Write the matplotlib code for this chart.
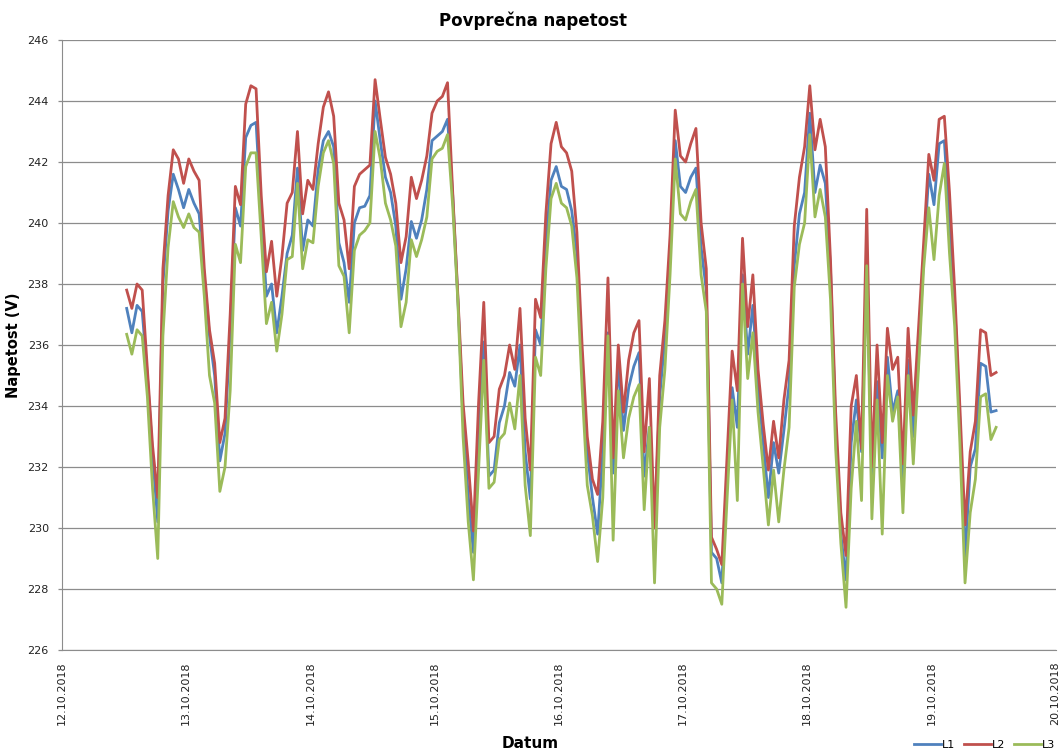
import numpy as np
import pandas as pd
import matplotlib
matplotlib.use("Agg")
import matplotlib.pyplot as plt
import matplotlib.dates as mdates

# hourly averages, first sample 12.10.2018 12:30
start_time = "2018-10-12 12:30"

L1 = [237.2, 236.4, 237.3, 237.1, 235.0, 232.4, 230.2, 238.0, 240.4, 241.6,
      241.1, 240.5, 241.1, 240.65, 240.3, 238.25, 236.3, 235.0, 232.2, 233.1,
      236.5, 240.5, 239.9, 242.8, 243.2, 243.3, 240.3, 237.6, 238.0, 236.4,
      237.6, 239.0, 239.6, 241.8, 239.1, 240.1, 239.9, 241.75, 242.7, 243.0,
      242.5, 239.35, 238.7, 237.4,
      240.0, 240.5, 240.55, 240.9, 244.0, 242.7, 241.5, 241.0, 239.9, 237.5,
      238.5, 240.05, 239.5, 240.1, 241.1, 242.7, 242.85, 243.0, 243.4, 240.9,
      237.5, 233.6, 231.05, 229.2, 233.0, 236.1, 231.7, 231.9, 233.45, 234.0,
      235.1, 234.65, 236.0, 232.5, 230.95, 236.5, 236.0, 239.35, 241.4, 241.85,
      241.2,
      241.1, 240.4, 239.0, 235.5, 232.5, 231.0, 229.8, 232.5, 236.4, 231.8,
      235.4, 233.2, 234.6, 235.3, 235.75, 231.7, 233.3, 230.0, 234.3, 236.2,
      239.0, 242.7, 241.2, 241.0, 241.5, 241.8, 239.2, 237.8, 229.2, 229.0,
      228.2, 231.6, 234.6, 233.3, 238.3, 235.7, 237.3, 234.6, 232.8, 231.0,
      232.8, 231.8, 233.2, 234.7,
      238.6, 240.3, 241.0, 243.6, 241.0, 241.9, 241.3, 238.5, 233.3, 229.8,
      228.3, 232.8, 234.2, 232.5, 238.6, 231.6, 234.8, 232.3, 235.6, 233.8,
      234.5, 231.3, 235.5, 233.0, 235.5, 238.9, 241.6, 240.6, 242.6, 242.7,
      240.0, 237.4, 233.5, 229.0, 232.0, 232.6, 235.4, 235.3, 233.8, 233.85]

L2 = [237.8, 237.2, 238.0, 237.8, 235.2, 232.7, 231.0, 238.5, 240.9, 242.4,
      242.1, 241.3, 242.1, 241.7, 241.4, 238.5, 236.5, 235.4, 232.8, 233.6,
      237.0, 241.2, 240.6, 243.9, 244.5, 244.4, 240.9, 238.4, 239.4, 237.6,
      238.9, 240.65, 241.0, 243.0, 240.3, 241.4, 241.1, 242.6, 243.8, 244.3,
      243.5, 240.65, 240.1, 238.5,
      241.2, 241.6, 241.75, 241.9, 244.7, 243.4, 242.15, 241.6, 240.65, 238.7,
      239.55, 241.5, 240.8, 241.4, 242.2, 243.6, 244.0, 244.15, 244.6, 241.0,
      237.6, 234.1, 232.15, 229.9, 234.1, 237.4, 232.8, 233.0, 234.55, 235.0,
      236.0, 235.2, 237.2, 233.6, 231.9, 237.5, 236.9, 240.3, 242.6, 243.3,
      242.5,
      242.3, 241.7, 239.7, 236.0, 233.0, 231.6, 231.1, 233.5, 238.2, 232.3,
      236.0, 233.8, 235.5, 236.4, 236.8, 232.5, 234.9, 230.0, 235.0, 236.8,
      239.6, 243.7, 242.2, 242.0, 242.6, 243.1, 240.0, 238.5, 229.7, 229.3,
      228.8, 232.3, 235.8, 234.5, 239.5, 236.6, 238.3, 235.2, 233.4, 231.9,
      233.5, 232.3, 234.2, 235.5,
      239.9, 241.5, 242.5, 244.5, 242.4, 243.4, 242.5, 238.8, 233.8, 230.5,
      229.1, 234.0, 235.0, 232.6, 240.45, 232.0, 236.0, 232.8, 236.55, 235.2,
      235.6, 232.1, 236.55, 233.7, 236.5, 239.35, 242.25, 241.4, 243.4, 243.5,
      241.0, 237.8, 234.0, 230.1, 232.5, 233.5, 236.5, 236.4, 235.0, 235.1]

L3 = [236.35, 235.7, 236.5, 236.3, 234.3, 231.3, 229.0, 236.3, 239.2, 240.7,
      240.2, 239.85, 240.3, 239.85, 239.7, 237.6, 235.0, 234.1, 231.2, 232.0,
      234.5, 239.3, 238.7, 241.85, 242.3, 242.3, 239.55, 236.7, 237.4, 235.8,
      237.0, 238.8, 238.9, 241.3, 238.5, 239.45, 239.35, 241.2, 242.3, 242.7,
      241.95, 238.6, 238.25, 236.4,
      239.1, 239.6, 239.75, 240.0, 243.0, 242.1, 240.65, 240.1, 239.25, 236.6,
      237.4, 239.45, 238.9, 239.45, 240.2, 242.1, 242.35, 242.45, 242.9, 240.55,
      237.4, 233.0, 230.2, 228.3, 231.9, 235.5, 231.3, 231.5, 232.9, 233.1,
      234.1, 233.25, 235.0, 231.4, 229.75, 235.6, 235.0, 238.5, 240.8, 241.3,
      240.65,
      240.5, 239.9, 238.2, 234.6, 231.4, 230.4, 228.9, 231.0, 236.3, 229.6,
      234.5, 232.3, 233.6, 234.3, 234.7, 230.6, 233.3, 228.2, 233.3, 235.2,
      238.3, 242.1, 240.3, 240.1, 240.7, 241.1, 238.3, 237.1, 228.2, 228.0,
      227.5, 230.9, 234.2, 230.9, 238.0, 234.9, 236.4, 233.8, 232.0, 230.1,
      231.9, 230.2, 231.9, 233.3,
      237.9, 239.3, 240.0, 242.9, 240.2, 241.1, 240.2, 237.5, 232.6, 229.5,
      227.4, 231.3, 233.5, 230.9, 238.6, 230.3, 234.2, 229.8, 235.0, 233.5,
      234.3, 230.5, 235.0, 232.1, 235.2, 238.5, 240.5, 238.8, 240.9, 241.95,
      239.0, 236.6, 232.8, 228.2, 230.5, 231.6, 234.3, 234.4, 232.9, 233.3]

series = [("L1", L1, "#4F81BD"), ("L2", L2, "#C0504D"), ("L3", L3, "#9BBB59")]

times = pd.date_range(start_time, periods=len(L1), freq="h")

fig = plt.figure(figsize=(10.59, 7.51), dpi=100)
ax = fig.add_axes([62 / 1059, 101 / 751, 993.6 / 1059, 610 / 751])

for name, vals, col in series:
    ax.plot(times, vals, color=col, lw=2.0, label=name, solid_joinstyle="round")

ax.set_ylim(226, 246)
ax.set_yticks(np.arange(226, 247, 2))
ax.set_xlim(pd.Timestamp("2018-10-12"), pd.Timestamp("2018-10-20"))
ax.xaxis.set_major_locator(mdates.DayLocator())
ax.xaxis.set_major_formatter(mdates.DateFormatter("%d.%m.%Y"))
plt.setp(ax.get_xticklabels(), rotation=90, ha="center", va="top")

ax.grid(axis="y", color="#8c8c8c", lw=0.9)
ax.set_axisbelow(True)
for s in ["top", "right"]:
    ax.spines[s].set_visible(False)
for s in ["left", "bottom"]:
    ax.spines[s].set_color("#8c8c8c")
ax.tick_params(axis="both", labelsize=8, labelcolor="#222222", color="#8c8c8c")
ax.tick_params(axis="y", length=3, width=0.9, pad=6.5)
ax.tick_params(axis="x", length=0, pad=8)

# title sits over the whole chart area, not just the plot area
fig.text(533 / 1059, 1 - 21 / 751, "Povprečna napetost", fontsize=12,
         fontweight="bold", ha="center", va="center")
ax.set_ylabel("Napetost (V)", fontsize=10.5, fontweight="bold")
ax.yaxis.set_label_coords((21 - 62) / 993.6, 0.5)
fig.text(530 / 1059, 1 - 743 / 751, "Datum", fontsize=11, fontweight="bold",
         ha="center", va="center")

fig.legend(loc="center right", bbox_to_anchor=(1055 / 1059, 1 - 745 / 751), ncol=3,
           frameon=False, fontsize=8, handlelength=2.4, handletextpad=0.1,
           columnspacing=0.8, borderpad=0, borderaxespad=0)

fig.savefig("out.png", dpi=100)
